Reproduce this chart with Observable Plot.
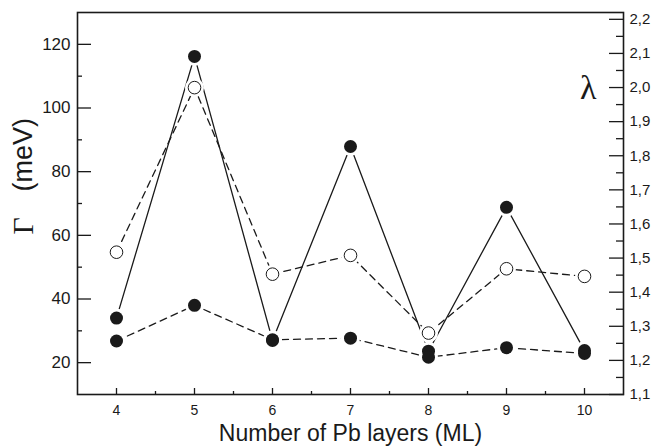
<!DOCTYPE html>
<html><head><meta charset="utf-8">
<script src="https://cdn.jsdelivr.net/npm/d3@7"></script>
<script src="https://cdn.jsdelivr.net/npm/@observablehq/plot@0.6"></script>
<style>body{margin:0;background:#fff} svg{display:block}</style>
</head><body><div id="chart"></div>
<script>
// Number of Pb layers (ML)
const layers = [4, 5, 6, 7, 8, 9, 10];
// Solid line, filled circles
const gammaSolid = [34, 116.2, 27, 87.9, 23.6, 68.8, 23.8];
// Dashed line, open circles
const gammaOpen = [54.7, 106.4, 47.8, 53.7, 29.3, 49.5, 47.1];
// Dashed line, filled circles
const gammaLower = [26.8, 38, 27.2, 27.7, 21.7, 24.7, 22.9];

const gammaDomain = [10, 130];
const lambdaDomain = [1.1, 2.22];
const gammaTicks = [20, 40, 60, 80, 100, 120];
const gammaMinor = [30, 50, 70, 90, 110];
const lambdaTicks = [1.1, 1.2, 1.3, 1.4, 1.5, 1.6, 1.7, 1.8, 1.9, 2.0, 2.1, 2.2];
const lambdaMinor = [1.15, 1.25, 1.35, 1.45, 1.55, 1.65, 1.75, 1.85, 1.95, 2.05, 2.15];
const xTicks = [4, 5, 6, 7, 8, 9, 10];
const xMinor = [4.5, 5.5, 6.5, 7.5, 8.5, 9.5];

const xLabel = "Number of Pb layers (ML)";
const yLabelSymbol = "Γ";
const yLabelUnit = "(meV)";
const rightLabel = "λ";

const toGamma = l => gammaDomain[0] + (l - lambdaDomain[0]) * (gammaDomain[1] - gammaDomain[0]) / (lambdaDomain[1] - lambdaDomain[0]);
const toLambda = g => lambdaDomain[0] + (g - gammaDomain[0]) * (lambdaDomain[1] - lambdaDomain[0]) / (gammaDomain[1] - gammaDomain[0]);

const rows = vals => layers.map((n, i) => ({n, v: vals[i]}));
const solid = rows(gammaSolid), open = rows(gammaOpen), lower = rows(gammaLower);
const all = [...solid, ...open, ...lower];

const ink = "#1a1a1a";
const font = "Liberation Sans, Arial, sans-serif";
const serif = "Liberation Serif, Times New Roman, serif";

const chart = Plot.plot({
  width: 652, height: 447,
  marginLeft: 77, marginRight: 29, marginTop: 12, marginBottom: 53,
  style: {fontFamily: font, background: "#fff", color: ink, overflow: "visible"},
  x: {domain: [3.5, 10.5]},
  y: {domain: gammaDomain},
  marks: [
    Plot.line(solid, {x: "n", y: "v", stroke: ink, strokeWidth: 1.3}),
    Plot.line(open, {x: "n", y: "v", stroke: ink, strokeWidth: 1.3, strokeDasharray: "7,5"}),
    Plot.line(lower, {x: "n", y: "v", stroke: ink, strokeWidth: 1.3, strokeDasharray: "7,5"}),
    Plot.dot(all, {x: "n", y: "v", r: 9.5, fill: "white", stroke: null}),
    Plot.dot(open, {x: "n", y: "v", r: 6.3, fill: "white", stroke: ink, strokeWidth: 1}),
    Plot.dot(solid, {x: "n", y: "v", r: 6.5, fill: ink, stroke: null}),
    Plot.dot(lower, {x: "n", y: "v", r: 6.5, fill: ink, stroke: null}),
    // x axis
    Plot.axisX(xTicks, {anchor: "bottom", tickSize: 6, dy: -6, tickPadding: 11, fontSize: 14, label: null, tickFormat: d => String(d), strokeWidth: 1.3}),
    Plot.axisX(xMinor, {anchor: "bottom", tickSize: 3, dy: -3, label: null, tickFormat: () => "", strokeWidth: 1.3}),
    // left axis
    Plot.axisY(gammaTicks, {anchor: "left", tickSize: 14, dx: 14, tickPadding: 7, fontSize: 17, label: null, tickFormat: d => String(d), strokeWidth: 1.3}),
    Plot.axisY(gammaMinor, {anchor: "left", tickSize: 5, dx: 5, label: null, tickFormat: () => "", strokeWidth: 1.3}),
    // right axis (lambda)
    Plot.axisY(lambdaTicks.map(toGamma), {anchor: "right", tickSize: 15, dx: -15, tickPadding: 6, fontSize: 15, label: null,
      tickFormat: g => d3.format(".1f")(toLambda(g)).replace(".", ","), strokeWidth: 1.3}),
    Plot.axisY(lambdaMinor.map(toGamma), {anchor: "right", tickSize: 8, dx: -8, label: null, tickFormat: () => "", strokeWidth: 1.3}),
    Plot.frame({stroke: ink, strokeWidth: 1.6}),
    Plot.text([xLabel], {frameAnchor: "bottom", dy: 46, fontSize: 23, fill: ink}),
    Plot.text([yLabelUnit], {frameAnchor: "left", dx: -54, dy: -12, rotate: -90, fontSize: 27, fill: ink}),
    Plot.text([yLabelSymbol], {frameAnchor: "left", dx: -54, dy: 31, rotate: -90, fontSize: 30, fontFamily: serif, fill: ink}),
    Plot.text([rightLabel], {frameAnchor: "top-right", dx: -27, dy: 62, fontSize: 34, fontFamily: serif, fill: ink})
  ]
});
document.getElementById("chart").appendChild(chart);
</script>
</body></html>
